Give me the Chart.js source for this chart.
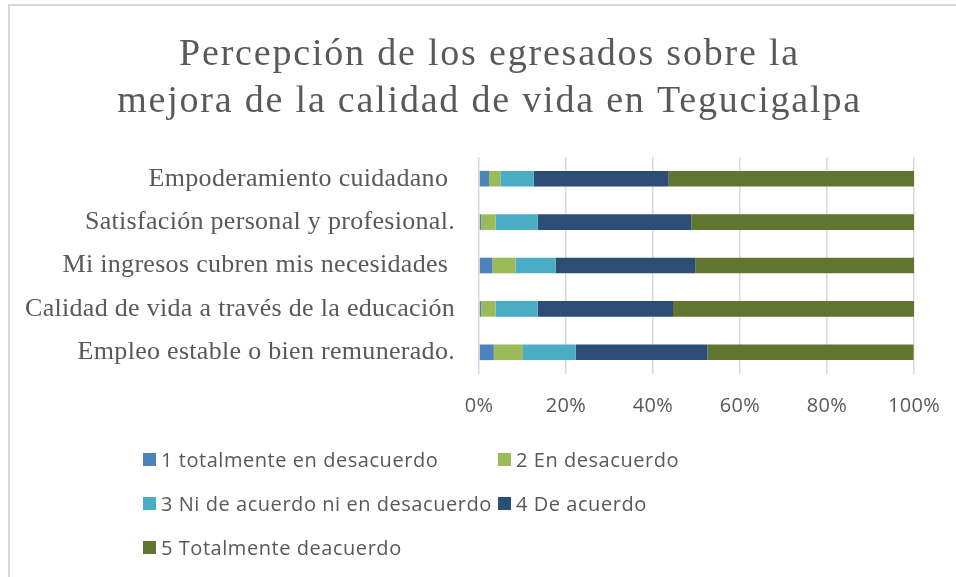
<!DOCTYPE html>
<html>
<head>
<meta charset="utf-8">
<script src="https://cdn.jsdelivr.net/npm/chart.js"></script>
<style>
  body { margin: 0; background: #fff; overflow: hidden; }
  #frame { position: absolute; left: 8px; top: 4px; width: 960px; height: 580px;
           border-left: 2px solid #d9d9d9; border-top: 2px solid #d9d9d9; }
  #wrap { position: absolute; left: 0; top: 0; width: 956px; height: 577px; overflow: hidden; }
  #legend { position: absolute; left: 143px; top: 446px;
            display: grid; grid-template-columns: 355px 300px; row-gap: 18px;
            font-family: "Open Sans", sans-serif; font-size: 20px; letter-spacing: 0.55px; color: #595959; }
  #legend div { display: flex; align-items: center; height: 26px; white-space: nowrap; }
  #legend span { display: inline-block; width: 13px; height: 13px; margin-right: 5px; }
</style>
</head>
<body>
<div id="frame"></div>
<div id="wrap"><canvas id="chart" width="979" height="577"></canvas></div>
<div id="legend"></div>
<script>
var categories = [
  "Empoderamiento cuidadano ",
  "Satisfación personal y profesional.",
  "Mi ingresos cubren mis necesidades ",
  "Calidad de vida a través de la educación",
  "Empleo estable o bien remunerado."
];
var seriesNames = [
  "1 totalmente en desacuerdo",
  "2 En desacuerdo",
  "3 Ni de acuerdo ni en desacuerdo",
  "4 De acuerdo",
  "5 Totalmente deacuerdo"
];
var totalDes = [2.3, 0.5, 3.1, 0.5, 3.4];
var enDes = [2.6, 3.3, 5.3, 3.3, 6.7];
var neutral = [7.7, 9.7, 9.2, 9.7, 12.1];
var deAcuerdo = [31.0, 35.3, 32.1, 31.1, 30.3];
var totalAcuerdo = [56.4, 51.2, 50.3, 55.6, 47.4];
var colors = ["#4f81bd", "#9bbb59", "#4bacc6", "#2c4d75", "#5f7530"];

var values = [totalDes, enDes, neutral, deAcuerdo, totalAcuerdo];
var datasets = [];
for (let i = 0; i < values.length; i++) {
    datasets.push({
        label: seriesNames[i],
        data: values[i],
        backgroundColor: colors[i],
        borderWidth: 0,
        barPercentage: 0.36,
        categoryPercentage: 1
    });
}

// wider letter spacing for the title, a little for the axis labels (drawn after the bars)
var spacing = {
    id: 'spacing',
    beforeDraw: function (chart) { chart.ctx.letterSpacing = '1.8px'; },
    beforeDatasetsDraw: function (chart) { chart.ctx.letterSpacing = '0.3px'; }
};

var ctx = document.getElementById('chart').getContext('2d');
var chart = new Chart(ctx, {
    type: 'bar',
    data: { labels: categories, datasets: datasets },
    plugins: [spacing],
    options: {
        indexAxis: 'y',
        responsive: false,
        animation: false,
        layout: { padding: { left: 0, right: 0, top: 0, bottom: 150 } },
        plugins: {
            legend: { display: false },
            tooltip: { enabled: false },
            title: {
                display: true,
                text: ["Percepción de los egresados sobre la", "mejora de la calidad de vida en Tegucigalpa"],
                color: "#595959",
                font: { family: "'Liberation Serif', serif", size: 38, weight: 'normal', lineHeight: 1.25 },
                padding: { top: 31, bottom: 31 }
            }
        },
        scales: {
            x: {
                stacked: true,
                min: 0,
                max: 100,
                ticks: {
                    z: 1,
                    stepSize: 20,
                    padding: 20,
                    color: "#595959",
                    font: { family: "'Open Sans', sans-serif", size: 20 },
                    callback: function (v) { return v + "%"; }
                },
                grid: { color: "#d9d9d9", lineWidth: 1.5, drawTicks: false },
                border: { display: false },
                afterFit: function (scale) { scale.height = 53; }
            },
            y: {
                stacked: true,
                ticks: {
                    z: 1,
                    padding: 24,
                    color: "#595959",
                    font: { family: "'Liberation Serif', serif", size: 26 }
                },
                grid: { display: false, drawTicks: false },
                border: { display: false },
                afterFit: function (scale) { scale.width = 479; }
            },
            // empty right-hand spacer so the title centres where the original does
            spacer: {
                type: 'linear',
                position: 'right',
                axis: 'y',
                ticks: { display: false },
                grid: { display: false, drawTicks: false },
                border: { display: false },
                afterFit: function (scale) { scale.width = 65; }
            }
        }
    }
});

var legend = document.getElementById('legend');
chart.data.datasets.forEach(function (ds) {
    var item = document.createElement('div');
    var box = document.createElement('span');
    box.style.background = ds.backgroundColor;
    item.appendChild(box);
    item.appendChild(document.createTextNode(ds.label));
    legend.appendChild(item);
});
</script>
</body>
</html>
